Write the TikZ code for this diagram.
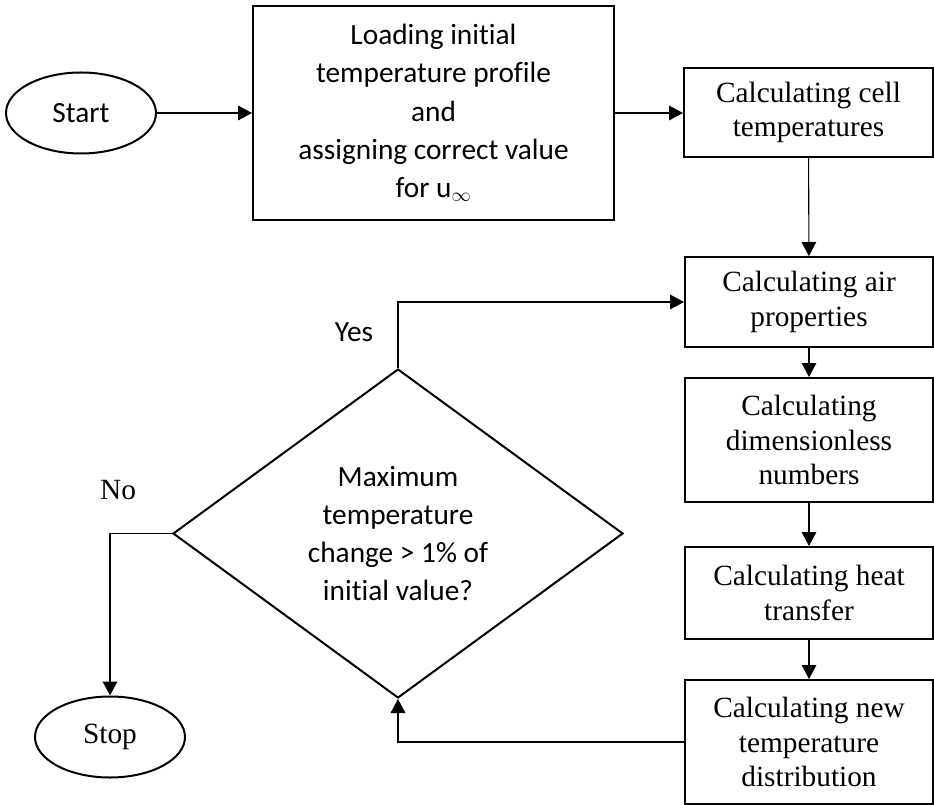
\documentclass[tikz,border=0pt]{standalone}
\usepackage{fontspec}
\setmainfont{Liberation Serif}
\newfontfamily\calfont[Ligatures=NoCommon]{Carlito}
\usetikzlibrary{shapes.geometric,arrows.meta}
\tikzset{
  cal/.style={font=\calfont\fontsize{22}{28.7}\selectfont},
  tms/.style={font=\fontsize{22}{26}\selectfont},
  procbox/.style={draw, line width=1.5pt, rectangle, inner sep=0pt, align=center, tms},
  termnode/.style={draw, line width=1.5pt, ellipse, inner sep=0pt, minimum width=150*0.75pt, minimum height=81*0.75pt},
  conn/.style={line width=0.8pt, -{Triangle[length=10.5pt,width=11pt]}}
}
\begin{document}
\begin{tikzpicture}[x=0.75pt,y=-0.75pt]
\useasboundingbox (0,0) rectangle (934,805);
\node[termnode, cal] (start) at (81,113) {Start};
\node[procbox, cal, minimum width=361*0.75pt, minimum height=214*0.75pt] (load) at (433.5,113)
  {Loading initial\\temperature profile\\and\\assigning correct value\\for u$_\infty$};
\node[procbox, minimum width=249*0.75pt, minimum height=89*0.75pt] (cell) at (808.5,112.5)
  {Calculating cell\\temperatures};
\node[procbox, minimum width=248*0.75pt, minimum height=90*0.75pt] (air) at (809,302)
  {Calculating air\\properties};
\node[procbox, minimum width=248*0.75pt, minimum height=124*0.75pt] (dim) at (809,440)
  {Calculating\\dimensionless\\numbers};
\node[procbox, minimum width=248*0.75pt, minimum height=92*0.75pt] (heat) at (809,593)
  {Calculating heat\\transfer};
\node[procbox, minimum width=248*0.75pt, minimum height=124*0.75pt] (new) at (809,742)
  {Calculating new\\temperature\\distribution};
\node[draw, line width=1.5pt, diamond, aspect=1.368, inner sep=0pt, minimum width=450*0.75pt, minimum height=329*0.75pt, align=center, cal] (dq) at (398,533.5)
  {Maximum\\temperature\\change > 1\% of\\initial value?};
\node[termnode, tms] (stop) at (110,737) {Stop};
\node[cal] (yes) at (354,332) {Yes};
\node[tms] (no) at (118,490) {No};

\draw[conn] (start) -- (load);
\draw[conn] (load.east) -- (cell.west |- load.east);
\draw[conn] (cell) -- (air);
\draw[conn] (air) -- (dim);
\draw[conn] (dim) -- (heat);
\draw[conn] (heat) -- (new);
\draw[conn] (new.west) -| (dq.south);
\draw[conn] (dq.north) |- (air.west);
\draw[conn] (dq.west) -| (stop.north);
\end{tikzpicture}
\end{document}
